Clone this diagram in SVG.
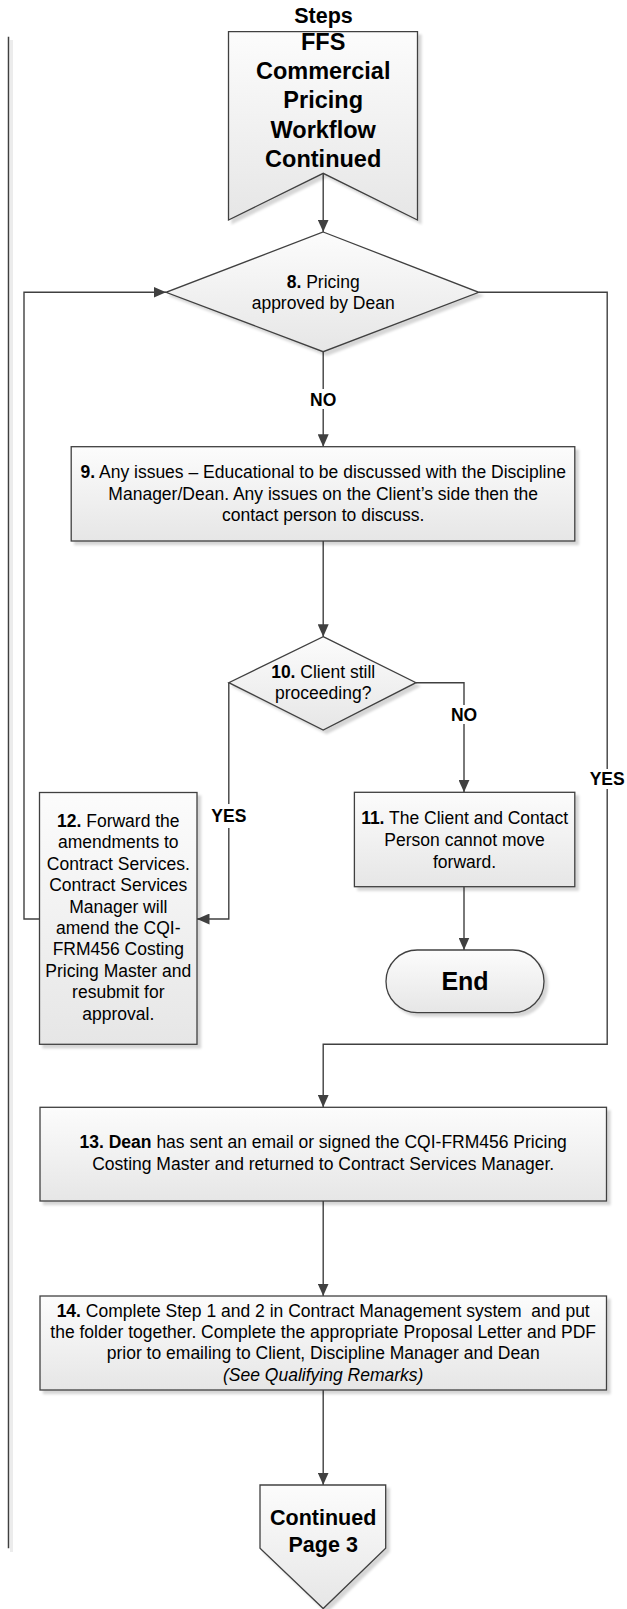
<svg xmlns="http://www.w3.org/2000/svg" width="627" height="1609" viewBox="0 0 627 1609">
<style>
  .shape { fill: url(#gf); stroke: #404040; stroke-width: 1.3; filter: url(#sh); }
  .conn { fill: none; stroke: #404040; stroke-width: 1.4; }
  .arr { marker-end: url(#ah); }
  text { font-family: "Liberation Sans", Arial, sans-serif; fill: #000; text-anchor: middle; }
  .t { font-size: 17.5px; }
  .lbl { font-size: 17.5px; font-weight: bold; }
  .big { font-size: 23.5px; font-weight: bold; }
  .mid { font-size: 21.5px; font-weight: bold; }
  .b { font-weight: bold; }
</style>
<defs>
  <linearGradient id="gf" x1="0" y1="0" x2="0" y2="1">
    <stop offset="0" stop-color="#fcfcfc"/>
    <stop offset="1" stop-color="#e6e6e6"/>
  </linearGradient>
  <filter id="sh" x="-10%" y="-10%" width="130%" height="130%">
    <feDropShadow dx="3.5" dy="3.5" stdDeviation="1.2" flood-color="#000" flood-opacity="0.16"/>
  </filter>
  <marker id="ah" markerUnits="userSpaceOnUse" markerWidth="13" markerHeight="11" refX="12.5" refY="5.5" orient="auto">
    <path d="M0,0 L12.5,5.5 L0,11 z" fill="#404040"/>
  </marker>
</defs>
<rect x="0" y="0" width="627" height="1609" fill="#ffffff"/>

<g id="lane">
  <line x1="11.5" y1="40" x2="11.5" y2="1552" stroke="#ececec" stroke-width="3"/>
  <line x1="8.5" y1="36.7" x2="8.5" y2="1548.3" stroke="#404040" stroke-width="1.5"/>
  <text class="mid" x="323.5" y="23.3">Steps</text>
</g>

<g id="connectors">
  <path class="conn arr" d="M323.2,173.3 L323.2,232"/>
  <path class="conn" d="M323.2,351.7 L323.2,389"/>
  <path class="conn arr" d="M323.2,409 L323.2,446.7"/>
  <path class="conn arr" d="M323.2,541 L323.2,636.7"/>
  <path class="conn" d="M416,682.7 L464,682.7 L464,705"/>
  <path class="conn arr" d="M464,724 L464,792.3"/>
  <path class="conn arr" d="M464,886.7 L464,950"/>
  <path class="conn" d="M228.8,682.7 L228.8,804"/>
  <path class="conn arr" d="M228.8,828 L228.8,919 L197,919"/>
  <path class="conn arr" d="M39.5,919 L24,919 L24,292.3 L166,292.3"/>
  <path class="conn" d="M478.8,292.3 L607.2,292.3 L607.2,769"/>
  <path class="conn arr" d="M607.2,789 L607.2,1044.3 L323.2,1044.3 L323.2,1107.3"/>
  <path class="conn arr" d="M323.2,1201 L323.2,1296"/>
  <path class="conn arr" d="M323.2,1390 L323.2,1485"/>
  <text class="lbl" x="323.2" y="405.7">NO</text>
  <text class="lbl" x="464" y="720.5">NO</text>
  <text class="lbl" x="228.8" y="822">YES</text>
  <text class="lbl" x="607.2" y="784.5">YES</text>
</g>

<g id="start">
  <polygon class="shape" points="228.5,31.7 417.5,31.7 417.5,220 323.2,173.3 228.5,220"/>
  <text class="big" x="323.2" y="50">FFS</text>
  <text class="big" x="323.2" y="79.2">Commercial</text>
  <text class="big" x="323.2" y="108.4">Pricing</text>
  <text class="big" x="323.2" y="137.6">Workflow</text>
  <text class="big" x="323.2" y="166.8">Continued</text>
</g>

<g id="step8">
  <polygon class="shape" points="323.2,232 478.8,292.3 323.2,351.7 166,292.3"/>
  <text class="t" x="323.2" y="287.7"><tspan class="b">8.</tspan> Pricing</text>
  <text class="t" x="323.2" y="309.3">approved by Dean</text>
</g>

<g id="step9">
  <rect class="shape" x="71.2" y="446.7" width="503.6" height="94.3"/>
  <text class="t" x="323.2" y="478.3"><tspan class="b">9.</tspan> Any issues – Educational to be discussed with the Discipline</text>
  <text class="t" x="323.2" y="499.5">Manager/Dean. Any issues on the Client’s side then the</text>
  <text class="t" x="323.2" y="520.7">contact person to discuss.</text>
</g>

<g id="step10">
  <polygon class="shape" points="323.2,636.7 416,682.7 323.2,730 228.8,682.7"/>
  <text class="t" x="323.2" y="678.3"><tspan class="b">10.</tspan> Client still</text>
  <text class="t" x="323.2" y="699">proceeding?</text>
</g>

<g id="step11">
  <rect class="shape" x="354.4" y="792.3" width="220.4" height="94.4"/>
  <text class="t" x="464.6" y="824.3"><tspan class="b">11.</tspan> The Client and Contact</text>
  <text class="t" x="464.6" y="846">Person cannot move</text>
  <text class="t" x="464.6" y="867.7">forward.</text>
</g>

<g id="end">
  <rect class="shape" x="386" y="950" width="158" height="62.7" rx="31.3" ry="31.3"/>
  <text x="465" y="989.5" style="font-size:25px;font-weight:bold">End</text>
</g>

<g id="step12">
  <rect class="shape" x="39.5" y="792.5" width="157.5" height="251.8"/>
  <text class="t" x="118.3" y="827"><tspan class="b">12.</tspan> Forward the</text>
  <text class="t" x="118.3" y="848.4">amendments to</text>
  <text class="t" x="118.3" y="869.8">Contract Services.</text>
  <text class="t" x="118.3" y="891.2">Contract Services</text>
  <text class="t" x="118.3" y="912.6">Manager will</text>
  <text class="t" x="118.3" y="934">amend the CQI-</text>
  <text class="t" x="118.3" y="955.4">FRM456 Costing</text>
  <text class="t" x="118.3" y="976.8">Pricing Master and</text>
  <text class="t" x="118.3" y="998.2">resubmit for</text>
  <text class="t" x="118.3" y="1019.6">approval.</text>
</g>

<g id="step13">
  <rect class="shape" x="40" y="1107.3" width="566.5" height="93.7"/>
  <text class="t" x="323.2" y="1148.3"><tspan class="b">13. Dean</tspan> has sent an email or signed the CQI-FRM456 Pricing</text>
  <text class="t" x="323.2" y="1170">Costing Master and returned to Contract Services Manager.</text>
</g>

<g id="step14">
  <rect class="shape" x="40" y="1296" width="566.5" height="94"/>
  <text class="t" x="323.2" y="1316.7"><tspan class="b">14.</tspan> Complete Step 1 and 2 in Contract Management system&#160; and put</text>
  <text class="t" x="323.2" y="1338">the folder together. Complete the appropriate Proposal Letter and PDF</text>
  <text class="t" x="323.2" y="1359.3">prior to emailing to Client, Discipline Manager and Dean</text>
  <text class="t" x="323.2" y="1380.6" font-style="italic">(See Qualifying Remarks)</text>
</g>

<g id="continued">
  <polygon class="shape" points="260,1485 385.7,1485 385.7,1548.3 323.2,1608.5 260,1548.3"/>
  <text class="mid" x="323.2" y="1525">Continued</text>
  <text class="mid" x="323.2" y="1551.7">Page 3</text>
</g>
</svg>
